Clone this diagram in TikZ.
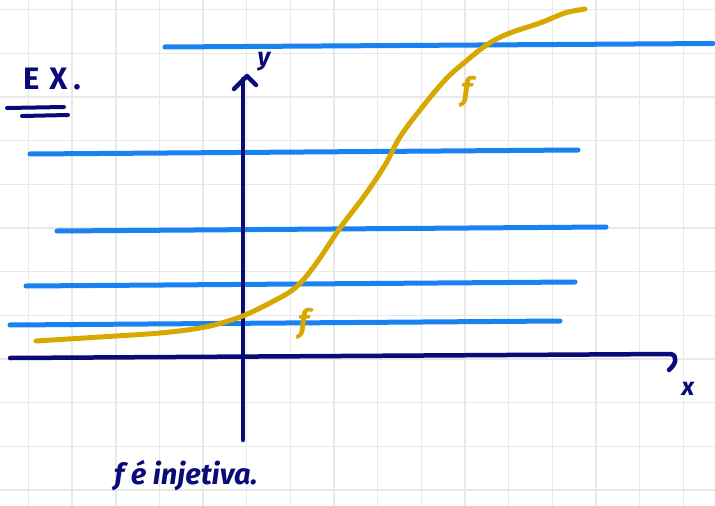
\documentclass[tikz,border=0pt]{standalone}
\usepackage{fontspec}
\setmainfont{Fira Sans}
\definecolor{navyink}{RGB}{10,10,120}
\definecolor{blueink}{RGB}{24,130,240}
\definecolor{goldink}{RGB}{214,168,0}
\definecolor{gridgray}{RGB}{232,232,232}
\tikzset{
  gridline/.style={gridgray, line width=1.4pt},
  blueline/.style={blueink, line width=5pt, line cap=round},
  axisline/.style={navyink, line width=4.5pt, line cap=round, line join=round},
  goldline/.style={goldink, line width=5pt, line cap=round, line join=round},
  navytext/.style={navyink, inner sep=0pt, font=\fontsize{29}{31}\selectfont\bfseries\itshape},
  goldtext/.style={goldink, inner sep=0pt, font=\fontsize{32}{34}\selectfont\bfseries\itshape},
}
\begin{document}
\begin{tikzpicture}[x=1pt,y=-1pt]
\useasboundingbox (0,0) rectangle (715,506);
\fill[white] (0,0) rectangle (715,506);
% grid
\foreach \i in {0,...,15} \draw[gridline] ({28.5+43.65*\i},0) -- ({28.5+43.65*\i},506);
\foreach \j in {0,...,11} \draw[gridline] (0,{9.7+43.65*\j}) -- (715,{9.7+43.65*\j});
% blue horizontal lines
\coordinate (b1s) at (165,47);  \coordinate (b1e) at (713,43.5);
\coordinate (b2s) at (30,154);  \coordinate (b2e) at (578,150);
\coordinate (b3s) at (57,231);  \coordinate (b3e) at (606,227);
\coordinate (b4s) at (26,286);  \coordinate (b4e) at (575,282);
\coordinate (b5s) at (10,325);  \coordinate (b5e) at (560,321);
\draw[blueline] (b1s) -- (b1e);
\draw[blueline] (b2s) -- (b2e);
\draw[blueline] (b3s) -- (b3e);
\draw[blueline] (b4s) -- (b4e);
\draw[blueline] (b5s) -- (b5e);
% axes
\coordinate (xs) at (10,358);
\coordinate (xe) at (671,354);
\coordinate (ys) at (243,440);
\coordinate (ye) at (243,79);
\draw[axisline] (xs) -- (xe) .. controls (678,356) and (676,364) .. (669,370);
\draw[axisline] (ys) -- (ye);
\draw[axisline] (234,89) -- (247,76) -- (256,85);
\node[navytext, font=\fontsize{25}{27}\selectfont\bfseries\itshape] (ylab) at (264,62) {y};
\node[navytext, font=\fontsize{25}{27}\selectfont\bfseries\itshape] (xlab) at (688,389) {x};
% golden curve
\draw[goldline] plot[smooth, tension=0.6] coordinates {
 (36,341) (100,337) (160,333) (200,328) (225,322) (245,315) (270,303)
 (295,288) (315,265) (340,228) (365,195) (385,165) (400,137) (420,110)
 (445,80) (465,62) (488,44) (510,33) (540,23) (565,13) (585,9)};
\node[goldtext] (f1) at (467,92) {f};
\node[goldtext] (f2) at (304,324) {f};
% texts
\node[navytext, font=\fontsize{31}{33}\selectfont\bfseries] (ex) at (52,79) {E\hspace{10pt}X\hspace{6pt}.};
\draw[axisline, line width=4pt] (7,108) -- (64,107);
\draw[axisline, line width=4pt] (22,116) -- (68,115);
\node[navytext, anchor=west] (title) at (114,476) {f é injetiva.};
\end{tikzpicture}
\end{document}
